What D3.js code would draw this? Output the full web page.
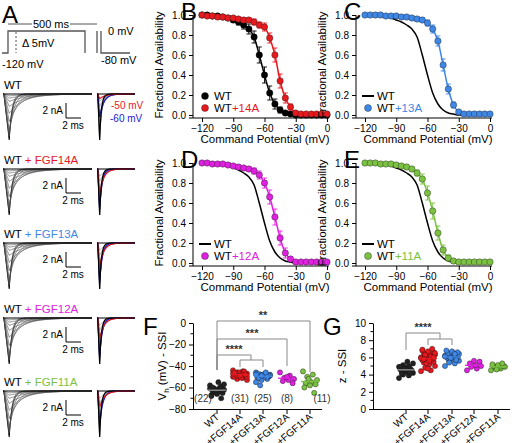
<!DOCTYPE html>
<html><head><meta charset="utf-8">
<script src="https://cdn.jsdelivr.net/npm/d3@7"></script>
<style>body{margin:0;background:#fff}svg{font-family:"Liberation Sans",Arial,sans-serif}</style>
</head><body><svg id="c" width="520" height="443"></svg>
<script>
// ---------- DATA ----------
const volts = d3.range(-120, 1, 5);
const wtAvail   = [1,1,0.99,0.99,0.98,0.97,0.95,0.93,0.9,0.86,0.78,0.6,0.4,0.22,0.11,0.05,0.02,0.01,0,0,0,0,0,0,0];
const wtErr     = [0,0,0,0,0.01,0.01,0.02,0.03,0.04,0.05,0.06,0.08,0.08,0.07,0.05,0.03,0.01,0,0,0,0,0,0,0,0];
const f14Avail  = [1,0.99,0.99,0.98,0.98,0.97,0.97,0.96,0.95,0.95,0.93,0.9,0.88,0.77,0.6,0.34,0.17,0.08,0.02,0.01,0.01,0.01,0.01,0.01,0.01];
const f14Err    = [0,0,0,0,0,0.01,0.01,0.01,0.02,0.02,0.03,0.03,0.04,0.05,0.07,0.07,0.05,0.03,0.01,0,0,0,0,0,0];
const f13Avail  = [1,1,1,1,0.99,0.99,0.99,0.98,0.98,0.97,0.96,0.95,0.92,0.86,0.74,0.5,0.26,0.1,0.03,0.01,0.01,0.01,0.01,0.01,0.01];
const f13Err    = [0,0,0,0,0,0,0,0.01,0.01,0.01,0.02,0.02,0.03,0.04,0.05,0.06,0.05,0.03,0.01,0,0,0,0,0,0];
const f12Avail  = [1,1,0.99,0.99,0.99,0.98,0.97,0.96,0.95,0.94,0.92,0.88,0.8,0.66,0.46,0.25,0.1,0.04,0.01,0.01,0.01,0.01,0.01,0.01,0.01];
const f12Err    = [0,0,0,0,0,0.01,0.01,0.01,0.02,0.02,0.03,0.04,0.05,0.07,0.08,0.07,0.05,0.02,0.01,0,0,0,0,0,0];
const f11Avail  = [1,1,1,0.99,0.99,0.99,0.98,0.97,0.96,0.94,0.9,0.84,0.7,0.52,0.3,0.13,0.05,0.02,0.01,0.01,0.01,0.01,0.01,0.01,0.01];
const f11Err    = [0,0,0,0,0,0,0.01,0.01,0.02,0.02,0.03,0.05,0.07,0.08,0.07,0.05,0.03,0.01,0,0,0,0,0,0,0];

const groups = ["WT","+FGF14A","+FGF13A","+FGF12A","+FGF11A"];
const groupN = ["(22)","(31)","(25)","(8)","(11)"];
const vhWT  = [-58,-60,-61,-62,-63,-64,-65,-66,-67,-59,-62,-61,-63,-64,-57,-55,-60,-62,-65,-68,-70,-63];
const vh14  = [-44,-45,-46,-47,-47,-48,-48,-48,-49,-49,-50,-50,-51,-52,-53,-46,-47,-48,-49,-50,-45,-46,-47,-48,-49,-50,-51,-47,-48,-49,-46];
const vh13  = [-46,-47,-48,-48,-49,-49,-50,-50,-51,-52,-53,-55,-47,-48,-49,-50,-51,-49,-48,-47,-50,-49,-48,-46,-58];
const vh12  = [-46,-49,-51,-52,-53,-54,-56,-50];
const vh11  = [-45,-48,-50,-53,-55,-56,-57,-58,-60,-65,-52];
const zWT   = [3.6,3.9,4.0,4.2,4.3,4.4,4.5,4.5,4.6,4.7,4.8,4.9,5.0,5.1,5.3,5.5,4.1,4.4,4.6,4.9,4.2,4.7];
const z14   = [4.4,4.5,4.8,5.0,5.2,5.4,5.5,5.6,5.7,5.8,5.9,6.0,6.1,6.2,6.3,6.4,6.5,6.6,6.7,6.8,7.0,5.3,5.9,6.1,6.3,6.5,5.6,5.8,6.0,4.7,6.9];
const z13   = [5.0,5.3,5.5,5.6,5.8,5.9,6.0,6.0,6.1,6.1,6.2,6.2,6.3,6.3,6.4,6.5,6.5,6.6,6.7,6.8,5.7,5.9,6.1,6.4,5.4];
const z12   = [4.5,4.7,4.9,5.0,5.1,5.3,5.5,5.6];
const z11   = [4.5,4.7,4.8,4.9,4.9,5.0,5.0,5.1,5.2,5.3,4.6];
// current trace families (normalized peak amplitude per voltage step)
const stepAmps = [1,0.97,0.9,0.78,0.6,0.42,0.27,0.16,0.09,0.04];
const rowLabels = ["","+ FGF14A","+ FGF13A","+ FGF12A","+ FGF11A"];
const rowRed  = [0.1,0.55,0.5,0.45,0.35];
const rowBlue = [0.5,0.88,0.85,0.85,0.72];

const colors = ["#000","#e8191e","#3f87e6","#e020e0","#7cc242"];
const svg = d3.select("#c");
const gray = "#555";

// ---------- Panel A ----------
function txt(x,y,t,o={}){return svg.append("text").attr("x",x).attr("y",y).text(t)
  .attr("font-size",o.fs||11).attr("fill",o.fill||"#000").attr("text-anchor",o.anchor||"start");}
txt(2,23,"A",{fs:24});
const prot = [[2,53],[8,53],[8,31],[85,31],[85,53]];
svg.append("path").attr("d",d3.line()(prot)).attr("fill","none").attr("stroke",gray).attr("stroke-width",1.3);
svg.append("path").attr("d",d3.line()([[97,53],[97,31]])).attr("fill","none").attr("stroke",gray).attr("stroke-width",1.3);
svg.append("path").attr("d",d3.line()([[101,31],[101,53],[130,53]])).attr("fill","none").attr("stroke",gray).attr("stroke-width",1.3);
svg.append("line").attr("x1",16).attr("x2",16).attr("y1",32).attr("y2",53).attr("stroke",gray).attr("stroke-dasharray","2,2");
svg.append("line").attr("x1",8).attr("x2",32).attr("y1",24).attr("y2",24).attr("stroke",gray);
svg.append("line").attr("x1",70).attr("x2",97).attr("y1",24).attr("y2",24).attr("stroke",gray);
txt(51,28,"500 ms",{anchor:"middle"});
txt(22,47,"Δ 5mV");txt(108,35,"0 mV");txt(2,68,"-120 mV");txt(101,64,"-80 mV");

const rowBase=[94,169,243,318,391];
const tL = d3.scaleLinear().domain([0,10]).range([3,92]);
const tR = d3.scaleLinear().domain([0,10]).range([97,135]);
const wave=(a,tau,t0,tp)=>d3.range(0,10.01,0.02).map(t=>[t,t<t0?0:t<tp?-a*(t-t0)/(tp-t0):-a*Math.exp(-(t-tp)/tau)]);
rowBase.forEach((b,i)=>{
  const y=d3.scaleLinear().domain([-1,0]).range([b+46,b]);
  const g=svg.append("g");
  stepAmps.forEach((a,k)=>{
    g.append("path").attr("d",d3.line().x(d=>tL(d[0])).y(d=>y(d[1]))(wave(a,0.3+(1-a)*2.2,0.1,0.7)))
      .attr("fill","none").attr("stroke",k<2?"#000":"#555").attr("stroke-width",0.7);
    if(a>0.1) g.append("path").attr("d",d3.line().x(d=>tR(d[0])).y(d=>y(d[1]))(wave(a,0.5+(1-a)*1.2,0.2,0.7)))
      .attr("fill","none").attr("stroke","#777").attr("stroke-width",0.6);
  });
  g.append("line").attr("x1",tL(0)).attr("x2",tL(10)).attr("y1",b).attr("y2",b).attr("stroke","#000").attr("stroke-width",1.2);
  g.append("line").attr("x1",tR(0)).attr("x2",tR(10)).attr("y1",b).attr("y2",b).attr("stroke","#000").attr("stroke-width",1.2);
  [[rowBlue[i],"#1a1ad0"],[rowRed[i],"#e8191e"]].forEach(([a,c])=>{
    g.append("path").attr("d",d3.line().x(d=>tR(d[0])).y(d=>y(d[1]))(wave(a,0.5+(1-a)*1.2,0.2,0.7)))
      .attr("fill","none").attr("stroke",c).attr("stroke-width",1.2);
  });
  g.append("path").attr("d",d3.line().x(d=>tR(d[0])).y(d=>y(d[1]))(wave(1,0.45,0.2,0.7)))
      .attr("fill","none").attr("stroke","#000").attr("stroke-width",1.2);
  const lt=svg.append("text").attr("x",4).attr("y",b-5).attr("font-size",11.5);
  lt.append("tspan").text("WT");
  if(i>0) lt.append("tspan").attr("fill",colors[i]).text(" "+rowLabels[i]);
  svg.append("path").attr("d",d3.line()([[66,b+9],[66,b+24],[81,b+24]])).attr("fill","none").attr("stroke","#000").attr("stroke-width",1);
  txt(63,b+20,"2 nA",{anchor:"end",fs:10});
  txt(73,b+35,"2 ms",{anchor:"middle",fs:10});
  if(i===0){txt(111,b+15,"-50 mV",{fill:"#e8191e",fs:10});txt(110,b+28,"-60 mV",{fill:"#1a1ad0",fs:10});}
});

// ---------- SSI panels B–E ----------
function ssi(ox,oy,letter,fam,legend){
  const x=d3.scaleLinear().domain([-120,0]).range([ox+9,ox+134]);
  const y=d3.scaleLinear().domain([0,1]).range([oy+100,oy]);
  const g=svg.append("g").attr("font-size",10);
  g.append("g").attr("transform",`translate(${ox},0)`).call(d3.axisLeft(y).tickValues([0,0.2,0.4,0.6,0.8,1]).tickFormat(d3.format(".1f")).tickSize(4).tickSizeOuter(0))
   .call(a=>{a.select(".domain").attr("d",`M-4,${oy+103}H0V${oy}`)});
  g.append("g").attr("transform",`translate(0,${oy+103})`).call(d3.axisBottom(x).tickValues([-120,-90,-60,-30,0]).tickSize(4).tickSizeOuter(0))
   .call(a=>a.select(".domain").attr("d",`M${ox},0H${ox+136}`));
  g.selectAll(".tick text").attr("font-size",10).attr("font-family","Liberation Sans,Arial");
  txt(ox+72,oy+128,"Command Potential (mV)",{anchor:"middle",fs:11.5});
  svg.append("text").attr("transform",`translate(${ox-30},${oy+50}) rotate(-90)`).attr("text-anchor","middle").attr("font-size",11.5).text("Fractional Availability");
  txt(ox-12,oy+5,letter,{fs:24});
  const line=d3.line().x((d,i)=>x(volts[i])).y(d=>y(d)).curve(d3.curveMonotoneX);
  fam.forEach(f=>{
    g.append("path").attr("d",line(f.v)).attr("fill","none").attr("stroke",f.c).attr("stroke-width",1.5);
    if(f.pts){
      f.v.forEach((v,i)=>{ if(f.e[i]>0.005){
        const X=x(volts[i]);
        g.append("path").attr("d",`M${X},${y(v-f.e[i])}V${y(v+f.e[i])}M${X-2.5},${y(v-f.e[i])}H${X+2.5}M${X-2.5},${y(v+f.e[i])}H${X+2.5}`).attr("stroke",f.c).attr("stroke-width",0.9);
      }});
      g.selectAll(null).data(f.v).enter().append("circle").attr("cx",(d,i)=>x(volts[i])).attr("cy",d=>y(d)).attr("r",3.2)
        .attr("fill",f.c).attr("stroke",f.c==="#000"?"#000":"#222").attr("stroke-width",0.4);
    }
  });
  legend.forEach((l,i)=>{
    const yy=oy+81+i*12;
    if(l.dot) svg.append("circle").attr("cx",ox+12).attr("cy",yy).attr("r",3.5).attr("fill",l.c).attr("stroke","#222").attr("stroke-width",0.4);
    else svg.append("line").attr("x1",ox+6).attr("x2",ox+18).attr("y1",yy).attr("y2",yy).attr("stroke",l.c).attr("stroke-width",2);
    const t=svg.append("text").attr("x",ox+21).attr("y",yy+4).attr("font-size",11.5);
    t.append("tspan").text("WT");
    if(l.s) t.append("tspan").attr("fill",l.c).text(l.s);
  });
}
ssi(193,15,"B",[{v:wtAvail,e:wtErr,c:"#000",pts:1},{v:f14Avail,e:f14Err,c:colors[1],pts:1}],
  [{dot:1,c:"#000"},{dot:1,c:colors[1],s:"+14A"}]);
ssi(356,15,"C",[{v:wtAvail,c:"#000"},{v:f13Avail,e:f13Err,c:colors[2],pts:1}],
  [{c:"#000"},{dot:1,c:colors[2],s:"+13A"}]);
ssi(193,163,"D",[{v:wtAvail,c:"#000"},{v:f12Avail,e:f12Err,c:colors[3],pts:1}],
  [{c:"#000"},{dot:1,c:colors[3],s:"+12A"}]);
ssi(356,163,"E",[{v:wtAvail,c:"#000"},{v:f11Avail,e:f11Err,c:colors[4],pts:1}],
  [{c:"#000"},{dot:1,c:colors[4],s:"+11A"}]);

// ---------- Scatter panels F, G ----------
function scat(ax,cats,dom,ticks,sets,letter,showN){
  const y=d3.scaleLinear().domain(dom).range([409,323]);
  const g=svg.append("g");
  g.append("g").attr("transform",`translate(${ax},0)`).call(d3.axisLeft(y).tickValues(ticks).tickSize(4).tickSizeOuter(0))
   .call(a=>a.selectAll("text").attr("font-size",10));
  const minor=d3.range(dom[0],dom[1],(ticks[1]-ticks[0])/2).filter(v=>!ticks.includes(v));
  minor.forEach(v=>g.append("line").attr("x1",ax-2.5).attr("x2",ax).attr("y1",y(v)).attr("y2",y(v)).attr("stroke","#000"));
  g.append("line").attr("x1",ax).attr("x2",cats[4]+12).attr("y1",409.5).attr("y2",409.5).attr("stroke","#000");
  groups.forEach((gr,i)=>{
    g.append("line").attr("x1",cats[i]).attr("x2",cats[i]).attr("y1",409).attr("y2",414).attr("stroke","#000");
    g.append("text").attr("transform",`translate(${cats[i]+3},${418}) rotate(-40)`).attr("text-anchor","end").attr("font-size",10).text(gr);
    const vals=sets[i];
    const mean=d3.mean(vals);
    vals.forEach((v,k)=>{
      const off=((k*7)%11-5)*1.4;
      g.append("circle").attr("cx",cats[i]+off).attr("cy",y(v)).attr("r",2.6).attr("fill",colors[i]==="#000"?"#222":colors[i]).attr("stroke","#111").attr("stroke-width",0.4);
    });
    g.append("line").attr("x1",cats[i]-9).attr("x2",cats[i]+9).attr("y1",y(mean)).attr("y2",y(mean)).attr("stroke",i===0?"#999":colors[i]).attr("stroke-width",1.3);
    if(showN) g.append("text").attr("x",i===0?cats[i]-14:(i===4?cats[i]+12:cats[i])).attr("y",402).attr("text-anchor","middle").attr("font-size",10).attr("fill","#333").text(groupN[i]);
  });
  txt(ax-50,335,letter,{fs:24});
}
scat(193,[217,240,263,287,310],[-80,0],[-80,-60,-40,-20,0],[vhWT,vh14,vh13,vh12,vh11],"F",true);
svg.append("text").attr("transform","translate(166,366) rotate(-90)").attr("text-anchor","middle").attr("font-size",11.5)
  .call(t=>{t.append("tspan").text("V");t.append("tspan").attr("font-size",8).attr("dy",3).text("h");t.append("tspan").attr("dy",-3).text(" (mV) - SSI");});
scat(373,[406,428,452,474,498],[0,10],[0,2,4,6,8,10],[zWT,z14,z13,z12,z11],"G",false);
svg.append("text").attr("transform","translate(346,366) rotate(-90)").attr("text-anchor","middle").attr("font-size",11.5).text("z - SSI");

function br(d){svg.append("path").attr("d",d).attr("fill","none").attr("stroke","#888").attr("stroke-width",1);}
function star(x,y,s){txt(x,y,s,{anchor:"middle",fs:11,fill:"#333"}).attr("font-weight","bold");}
br("M217,370V321H310V372");star(263,319,"**");
br("M217,370V339H287V366");star(252,337,"***");
br("M217,370V355H251V360M240,367V360H263V367");star(234,353,"****");
br("M406,350V333H440V339M428,345V339H452V345");star(423,331,"****");
</script></body></html>
